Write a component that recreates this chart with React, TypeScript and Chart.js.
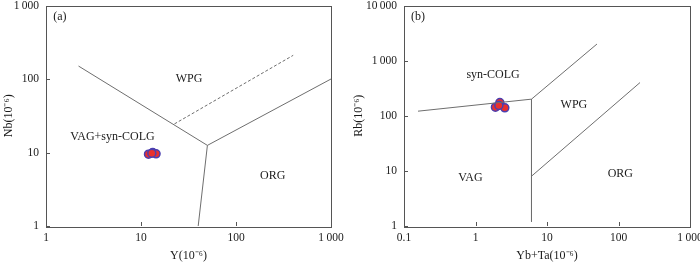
import React, { useEffect, useRef } from "react";
import { Chart, registerables } from "chart.js";
Chart.register(...registerables);

// ---------- Panel (a): Nb vs Y ----------
const aTicksX = [1, 10, 100, 1000];
const aTicksY = [1, 10, 100, 1000];
const aSampleY = [12.0, 13.3, 14.4, 13.0];
const aSampleNb = [9.5, 10.0, 9.6, 9.8];
const aBound1X = [2.2, 50];
const aBound1Y = [150, 12.5];
const aBound2X = [50, 1000];
const aBound2Y = [12.5, 100];
const aBound3X = [50, 40];
const aBound3Y = [12.5, 1];
const aDashX = [22.5, 400];
const aDashY = [24.5, 210];
const aLabels = ["(a)", "WPG", "VAG+syn-COLG", "ORG"];
const aLabelX = [1.4, 32, 5, 243];
const aLabelY = [708, 100, 16.5, 4.8];

// ---------- Panel (b): Rb vs Yb+Ta ----------
const bTicksX = [0.1, 1, 10, 100, 1000];
const bTicksY = [1, 10, 100, 1000, 10000];
const bSampleYbTa = [1.9, 2.19, 2.57, 2.12];
const bSampleRb = [143, 174, 139, 154];
const bBound1X = [0.157, 6.07];
const bBound1Y = [121, 200];
const bBound2X = [6.07, 6.07];
const bBound2Y = [200, 1.2];
const bBound3X = [6.07, 50];
const bBound3Y = [200, 2000];
const bBound4X = [6.07, 200];
const bBound4Y = [8, 400];
const bLabels = ["(b)", "syn-COLG", "WPG", "VAG", "ORG"];
const bLabelX = [0.157, 1.76, 23.8, 0.85, 106];
const bLabelY = [6340, 551, 156, 7.6, 8.75];

const FONT = "'Liberation Serif', 'Times New Roman', serif";
const LINE = "#6e6e6e";
const TEXT = "#1a1a1a";

const fmt = (v: number) => {
  if (v >= 1000) {
    const s = String(Math.round(v));
    return s.replace(/\B(?=(\d{3})+(?!\d))/g, "\u2009");
  }
  return String(v);
};

const toPts = (xs: number[], ys: number[]) => xs.map((x, i) => ({ x, y: ys[i] }));

const lineDs = (xs: number[], ys: number[], dash: number[] = []) => ({
  type: "scatter" as const,
  data: toPts(xs, ys),
  showLine: true,
  borderColor: LINE,
  borderWidth: 1,
  borderDash: dash,
  pointRadius: 0,
  fill: false,
});

const sampleDs = (xs: number[], ys: number[]) => ({
  type: "scatter" as const,
  data: toPts(xs, ys),
  pointRadius: 4,
  pointBackgroundColor: "#e8302e",
  pointBorderColor: "#4b3fb0",
  pointBorderWidth: 1.5,
  showLine: false,
});

function makePlugin(labels: string[], lx: number[], ly: number[]) {
  return {
    id: "deco",
    afterDraw(chart: any) {
      const { ctx, chartArea } = chart;
      const xs = chart.scales.x;
      const ys = chart.scales.y;
      ctx.save();
      // frame
      ctx.strokeStyle = "#555";
      ctx.lineWidth = 1;
      ctx.strokeRect(
        Math.round(chartArea.left) + 0.5,
        Math.round(chartArea.top) + 0.5,
        Math.round(chartArea.right - chartArea.left),
        Math.round(chartArea.bottom - chartArea.top)
      );
      // inward ticks
      ctx.beginPath();
      xs.ticks.forEach((t: any) => {
        const px = Math.round(xs.getPixelForValue(t.value)) + 0.5;
        ctx.moveTo(px, chartArea.bottom);
        ctx.lineTo(px, chartArea.bottom - 4);
      });
      ys.ticks.forEach((t: any) => {
        const py = Math.round(ys.getPixelForValue(t.value)) + 0.5;
        ctx.moveTo(chartArea.left, py);
        ctx.lineTo(chartArea.left + 4, py);
      });
      ctx.stroke();
      // region labels
      ctx.fillStyle = TEXT;
      ctx.font = `12px ${FONT}`;
      ctx.textAlign = "center";
      ctx.textBaseline = "middle";
      labels.forEach((s, i) => {
        ctx.fillText(s, xs.getPixelForValue(lx[i]), ys.getPixelForValue(ly[i]));
      });
      ctx.restore();
    },
  };
}

function makeConfig(opts: {
  datasets: any[];
  xMin: number;
  xMax: number;
  yMin: number;
  yMax: number;
  xTicks: number[];
  yTicks: number[];
  xTitle: string;
  yTitle: string;
  yWidth: number;
  padRight: number;
  plugin: any;
}) {
  return {
    type: "scatter" as const,
    data: { datasets: opts.datasets },
    options: {
      animation: false,
      responsive: false,
      events: [],
      layout: { padding: { top: 5, right: opts.padRight, left: 0, bottom: 0 } },
      plugins: { legend: { display: false }, tooltip: { enabled: false } },
      scales: {
        x: {
          type: "logarithmic",
          min: opts.xMin,
          max: opts.xMax,
          grid: { display: false, drawTicks: false },
          border: { display: false },
          afterBuildTicks: (s: any) => {
            s.ticks = opts.xTicks.map((v) => ({ value: v }));
          },
          afterFit: (s: any) => {
            s.height = 37;
            s.paddingLeft = 0;
            s.paddingRight = 0;
          },
          ticks: {
            autoSkip: false,
            maxRotation: 0,
            padding: 5,
            color: TEXT,
            font: { family: FONT, size: 11.5 },
            callback: (v: any) => fmt(Number(v)),
          },
          title: {
            display: true,
            text: opts.xTitle,
            color: TEXT,
            font: { family: FONT, size: 12 },
            padding: { top: 0, bottom: 0 },
          },
        },
        y: {
          type: "logarithmic",
          min: opts.yMin,
          max: opts.yMax,
          grid: { display: false, drawTicks: false },
          border: { display: false },
          afterBuildTicks: (s: any) => {
            s.ticks = opts.yTicks.map((v) => ({ value: v }));
          },
          afterFit: (s: any) => {
            s.width = opts.yWidth;
            s.paddingTop = 0;
            s.paddingBottom = 0;
          },
          ticks: {
            autoSkip: false,
            padding: 7,
            color: TEXT,
            font: { family: FONT, size: 11.5 },
            callback: (v: any) => fmt(Number(v)),
          },
          title: {
            display: true,
            text: opts.yTitle,
            color: TEXT,
            font: { family: FONT, size: 12 },
            padding: { top: 2, bottom: 0 },
          },
        },
      },
    },
    plugins: [opts.plugin],
  };
}

function Panel({ config, left }: { config: any; left: number }) {
  const ref = useRef<HTMLCanvasElement>(null);
  useEffect(() => {
    if (!ref.current) return;
    const chart = new Chart(ref.current, config);
    return () => chart.destroy();
  }, [config]);
  return (
    <canvas
      ref={ref}
      width={350}
      height={263}
      style={{ position: "absolute", left, top: 0, width: 350, height: 263 }}
    />
  );
}

const configA = makeConfig({
  datasets: [
    lineDs(aBound1X, aBound1Y),
    lineDs(aBound2X, aBound2Y),
    lineDs(aBound3X, aBound3Y),
    lineDs(aDashX, aDashY, [3, 2]),
    sampleDs(aSampleY, aSampleNb),
  ],
  xMin: 1,
  xMax: 1000,
  yMin: 1,
  yMax: 1000,
  xTicks: aTicksX,
  yTicks: aTicksY,
  xTitle: "Y(10⁻⁶)",
  yTitle: "Nb(10⁻⁶)",
  yWidth: 46,
  padRight: 19,
  plugin: makePlugin(aLabels, aLabelX, aLabelY),
});

const configB = makeConfig({
  datasets: [
    lineDs(bBound1X, bBound1Y),
    lineDs(bBound2X, bBound2Y),
    lineDs(bBound3X, bBound3Y),
    lineDs(bBound4X, bBound4Y),
    sampleDs(bSampleYbTa, bSampleRb),
  ],
  xMin: 0.1,
  xMax: 1000,
  yMin: 1,
  yMax: 10000,
  xTicks: bTicksX,
  yTicks: bTicksY,
  xTitle: "Yb+Ta(10⁻⁶)",
  yTitle: "Rb(10⁻⁶)",
  yWidth: 54,
  padRight: 10,
  plugin: makePlugin(bLabels, bLabelX, bLabelY),
});

export default function App() {
  return (
    <div
      style={{
        position: "fixed",
        left: 0,
        top: 0,
        width: 700,
        height: 263,
        background: "#fff",
        overflow: "hidden",
      }}
    >
      <Panel config={configA} left={0} />
      <Panel config={configB} left={350} />
    </div>
  );
}
